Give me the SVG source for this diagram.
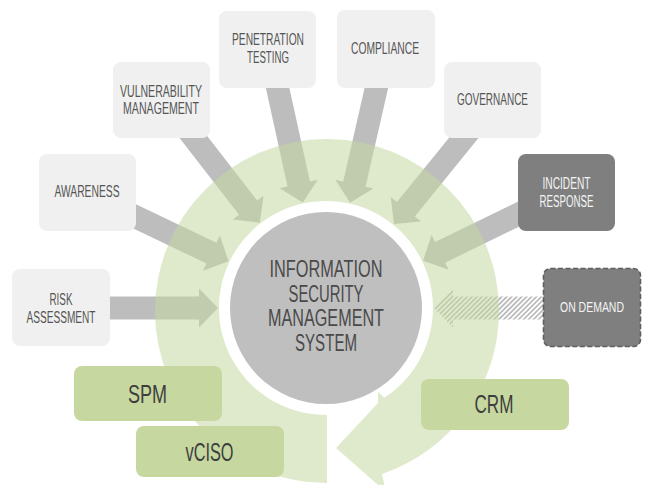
<svg xmlns="http://www.w3.org/2000/svg" width="646" height="485" viewBox="0 0 646 485">
<defs>
<style>
.box{fill:#f0f0f0}
.dark{fill:#7f7f7f}
.dash{fill:#7f7f7f;stroke:#5e5e5e;stroke-width:1.6;stroke-dasharray:5 2.5}
.gbox{fill:#c6d89f}
.lbl{font-family:"Liberation Sans Narrow","Liberation Sans",Arial,sans-serif;font-size:16px;fill:#555555;text-anchor:middle}
.w{fill:#f4f4f4}
.sm{font-size:14px}
.big{font-family:"Liberation Sans Narrow","Liberation Sans",Arial,sans-serif;font-size:25px;fill:#3e3e3e;text-anchor:middle}
.ctr{font-family:"Liberation Sans Narrow","Liberation Sans",Arial,sans-serif;font-size:23px;fill:#4a4a4a;text-anchor:middle}
.arr{fill:#bdbdbd}
</style>
<pattern id="hatch" width="3.5" height="3.5" patternUnits="userSpaceOnUse" patternTransform="rotate(45)">
<rect width="1.6" height="3.5" fill="#b5b5b5"/>
</pattern>
<path id="arrow" d="M108,0 L127,-19.5 L127,-11.5 L240,-11.5 L240,11.5 L127,11.5 L127,19.5 Z"/>
</defs>

<g id="connectors">
<use href="#arrow" class="arr" transform="translate(326,308) rotate(180)"/>
<use href="#arrow" class="arr" transform="translate(326,308) rotate(205.6)"/>
<use href="#arrow" class="arr" transform="translate(326,308) rotate(232.2)"/>
<use href="#arrow" class="arr" transform="translate(326,308) rotate(257.6)"/>
<use href="#arrow" class="arr" transform="translate(326,308) rotate(282.9)"/>
<use href="#arrow" class="arr" transform="translate(326,308) rotate(309)"/>
<use href="#arrow" class="arr" transform="translate(326,308) rotate(334)"/>
<use href="#arrow" fill="url(#hatch)" transform="translate(326,308)"/>
</g>

<g id="cycle">
<path d="M327,483 L327,415 A107,107 0 1 1 384.3,397.7 L378,392 L378,403 L336,448 L386,492 L382,474 A172,172 0 0 0 499,311 A172,172 0 0 0 327,139 A172,172 0 0 0 155,311 A172,172 0 0 0 327,483 Z" fill="#c5d9a3" fill-opacity="0.55"/>
</g>

<g id="isms">
<circle cx="326" cy="308" r="96" fill="#bfbfbf"/>
<text class="ctr" x="326" y="277" textLength="113" lengthAdjust="spacingAndGlyphs">INFORMATION</text>
<text class="ctr" x="326" y="302" textLength="75" lengthAdjust="spacingAndGlyphs">SECURITY</text>
<text class="ctr" x="326" y="326" textLength="116" lengthAdjust="spacingAndGlyphs">MANAGEMENT</text>
<text class="ctr" x="326" y="351" textLength="62" lengthAdjust="spacingAndGlyphs">SYSTEM</text>
</g>

<g id="risk-assessment">
<rect class="box" x="12" y="269" width="98" height="77" rx="8"/>
<text class="lbl" x="61" y="305" textLength="23" lengthAdjust="spacingAndGlyphs">RISK</text>
<text class="lbl" x="61" y="323" textLength="69" lengthAdjust="spacingAndGlyphs">ASSESSMENT</text>
</g>

<g id="awareness">
<rect class="box" x="39" y="154" width="97" height="77" rx="8"/>
<text class="lbl" x="87" y="197" textLength="65" lengthAdjust="spacingAndGlyphs">AWARENESS</text>
</g>

<g id="vulnerability-management">
<rect class="box" x="113" y="62" width="97" height="76" rx="8"/>
<text class="lbl" x="161" y="97" textLength="82" lengthAdjust="spacingAndGlyphs">VULNERABILITY</text>
<text class="lbl" x="161" y="114" textLength="76" lengthAdjust="spacingAndGlyphs">MANAGEMENT</text>
</g>

<g id="penetration-testing">
<rect class="box" x="219" y="11" width="97" height="77" rx="8"/>
<text class="lbl" x="268" y="45" textLength="72" lengthAdjust="spacingAndGlyphs">PENETRATION</text>
<text class="lbl" x="268" y="63" textLength="42" lengthAdjust="spacingAndGlyphs">TESTING</text>
</g>

<g id="compliance">
<rect class="box" x="337" y="10" width="98" height="78" rx="8"/>
<text class="lbl" x="385" y="54" textLength="68" lengthAdjust="spacingAndGlyphs">COMPLIANCE</text>
</g>

<g id="governance">
<rect class="box" x="444" y="62" width="97" height="76" rx="8"/>
<text class="lbl" x="492.5" y="105" textLength="71" lengthAdjust="spacingAndGlyphs">GOVERNANCE</text>
</g>

<g id="incident-response">
<rect class="dark" x="518" y="154" width="97" height="77" rx="8"/>
<text class="lbl w" x="566.5" y="189" textLength="48" lengthAdjust="spacingAndGlyphs">INCIDENT</text>
<text class="lbl w" x="566.5" y="207" textLength="54" lengthAdjust="spacingAndGlyphs">RESPONSE</text>
</g>

<g id="on-demand">
<rect class="dash" x="543.5" y="268.5" width="97" height="78" rx="7"/>
<text class="lbl w sm" x="592" y="312" textLength="64" lengthAdjust="spacingAndGlyphs">ON DEMAND</text>
</g>

<g id="spm">
<rect class="gbox" x="74" y="366" width="148" height="55" rx="8"/>
<text class="big" x="147.5" y="402.5" textLength="39" lengthAdjust="spacingAndGlyphs">SPM</text>
</g>

<g id="vciso">
<rect class="gbox" x="136" y="426" width="148" height="51" rx="8"/>
<text class="big" x="209.5" y="460.5" textLength="48" lengthAdjust="spacingAndGlyphs">vCISO</text>
</g>

<g id="crm">
<rect class="gbox" x="421" y="379" width="148" height="51" rx="8"/>
<text class="big" x="494" y="413" textLength="39" lengthAdjust="spacingAndGlyphs">CRM</text>
</g>
</svg>
